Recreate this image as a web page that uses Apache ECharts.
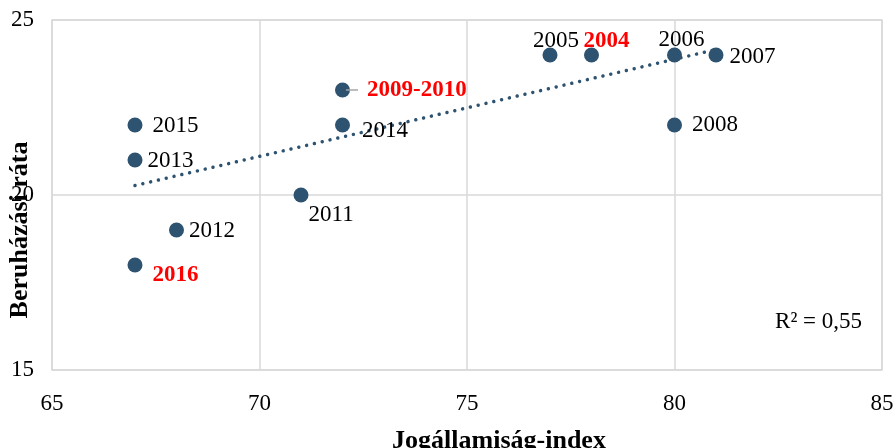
<!DOCTYPE html>
<html lang="hu">
<head>
  <meta charset="UTF-8" />
  <title>Jogállamiság-index és beruházási ráta</title>
  <script src="https://cdn.jsdelivr.net/npm/echarts@6/dist/echarts.min.js"></script>
  <style>
    html, body { margin: 0; padding: 0; background: #fff; }
    #chart { width: 896px; height: 448px; }
  </style>
</head>
<body>
  <div id="chart"></div>
  <script>
    // adatok
    const years = ['2004', '2005', '2006', '2007', '2008', '2009-2010', '2011', '2012', '2013', '2014', '2015', '2016'];
    const ruleOfLaw = [78, 77, 80, 81, 80, 72, 71, 68, 67, 72, 67, 67];
    const investment = [24, 24, 24, 24, 22, 23, 20, 19, 21, 22, 22, 18];
    // 2009 és 2010 ugyanott van, ezért kétszer számít a trendvonalnál
    const weights = [1, 1, 1, 1, 1, 2, 1, 1, 1, 1, 1, 1];
    const highlighted = ['2004', '2009-2010', '2016'];

    const FONT = "'Liberation Serif', 'Times New Roman', serif";
    const DOT = '#2e5370';

    // címkék elhelyezése
    const labelPlace = {
      '2004': { position: 'top', distance: 0, offset: [15, 5] },
      '2005': { position: 'top', distance: 0, offset: [6, 5] },
      '2006': { position: 'top', distance: 0, offset: [7, 4] },
      '2007': { position: 'right', distance: 6, offset: [0, 2] },
      '2008': { position: 'right', distance: 10, offset: [0, 0] },
      '2009-2010': { position: 'right', distance: -4, offset: [0, 0] },
      '2011': { position: 'right', distance: 0, offset: [0, 20] },
      '2012': { position: 'right', distance: 5, offset: [0, 1] },
      '2013': { position: 'right', distance: 5, offset: [0, 1] },
      '2014': { position: 'right', distance: 12, offset: [0, 6] },
      '2015': { position: 'right', distance: 10, offset: [0, 1] },
      '2016': { position: 'right', distance: 10, offset: [0, 10] }
    };

    // lineáris trend (legkisebb négyzetek)
    let n = 0, sx = 0, sy = 0;
    ruleOfLaw.forEach((x, i) => { n += weights[i]; sx += weights[i] * x; sy += weights[i] * investment[i]; });
    const mx = sx / n, my = sy / n;
    let sxy = 0, sxx = 0, syy = 0;
    ruleOfLaw.forEach((x, i) => {
      const dx = x - mx, dy = investment[i] - my;
      sxy += weights[i] * dx * dy; sxx += weights[i] * dx * dx; syy += weights[i] * dy * dy;
    });
    const slope = sxy / sxx;
    const icpt = my - slope * mx;
    const r2 = (sxy * sxy) / (sxx * syy);
    const xMin = Math.min(...ruleOfLaw), xMax = Math.max(...ruleOfLaw);
    const trend = [[xMin, icpt + slope * xMin], [xMax, icpt + slope * xMax]];

    const points = years.map((y, i) => {
      const hl = highlighted.includes(y);
      const p = labelPlace[y];
      const lead = y === '2009-2010';
      return {
        name: y,
        value: [ruleOfLaw[i], investment[i]],
        label: {
          show: true,
          formatter: lead ? '{ln|}{t|' + y + '}' : y,
          position: p.position,
          distance: p.distance,
          offset: p.offset,
          color: hl ? '#ff0000' : '#000',
          fontWeight: hl ? 'bold' : 'normal',
          rich: {
            ln: { width: 12, height: 1.5, backgroundColor: '#a6a6a6' },
            t: { fontFamily: FONT, fontSize: 23, fontWeight: 'bold', color: '#ff0000', padding: [0, 0, 0, 9] }
          }
        }
      };
    });

    const chart = echarts.init(document.getElementById('chart'));
    chart.setOption({
      animation: false,
      grid: {
        left: 52, right: 14, top: 20, bottom: 78,
        outerBoundsMode: 'none',
        containLabel: false,
        show: true, borderColor: '#d9d9d9', borderWidth: 1.5
      },
      xAxis: {
        type: 'value',
        min: 65, max: 85, interval: 5,
        name: 'Jogállamiság-index',
        nameLocation: 'middle',
        nameGap: 58,
        nameMoveOverlap: false,
        nameTextStyle: { fontFamily: FONT, fontSize: 26, fontWeight: 'bold', color: '#000', padding: [0, 0, 0, 64] },
        axisLine: { show: false },
        axisTick: { show: false },
        axisLabel: { fontFamily: FONT, fontSize: 23, color: '#000', margin: 22 },
        splitLine: { lineStyle: { color: '#d9d9d9', width: 1.5 } }
      },
      yAxis: {
        type: 'value',
        min: 15, max: 25, interval: 5,
        name: 'Beruházási ráta',
        nameLocation: 'middle',
        nameGap: 19,
        nameMoveOverlap: false,
        nameTextStyle: { fontFamily: FONT, fontSize: 26, fontWeight: 'bold', color: '#000', padding: [0, 70, 0, 0] },
        axisLine: { show: false },
        axisTick: { show: false },
        axisLabel: { fontFamily: FONT, fontSize: 23, color: '#000', margin: 18 },
        splitLine: { lineStyle: { color: '#d9d9d9', width: 1.5 } }
      },
      graphic: [{
        type: 'text',
        right: 34,
        top: 310,
        style: {
          text: 'R² = ' + r2.toFixed(2).replace('.', ','),
          font: "23px 'Liberation Serif', serif",
          fill: '#000'
        }
      }],
      series: [
        {
          type: 'line',
          data: trend,
          symbol: 'none',
          z: 1,
          lineStyle: { color: DOT, width: 3.5, type: [0.01, 8], cap: 'round' }
        },
        {
          type: 'scatter',
          data: points,
          symbolSize: 15,
          z: 3,
          itemStyle: { color: DOT, opacity: 1 },
          label: { fontFamily: FONT, fontSize: 23 },
          emphasis: { disabled: true }
        }
      ]
    });
  </script>
</body>
</html>
